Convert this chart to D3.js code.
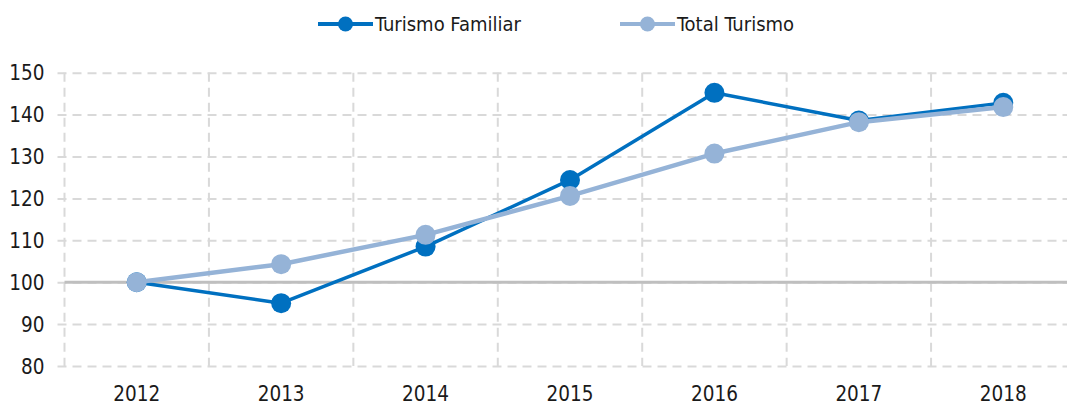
<!DOCTYPE html>
<html><head><meta charset="utf-8">
<script src="https://cdn.jsdelivr.net/npm/d3@7"></script>
<style>
body{margin:0;background:#fff;}
text{font-family:"Liberation Sans Narrow","DejaVu Sans Condensed","Roboto",sans-serif;fill:#1a1a1a;}
</style></head><body>
<svg id="c" width="1067" height="405"></svg>
<script>
const years = ["2012","2013","2014","2015","2016","2017","2018"];
const turismoFamiliar = [100, 95.0, 108.5, 124.4, 145.2, 138.6, 142.8];
const totalTurismo = [100, 104.3, 111.3, 120.6, 130.7, 138.2, 141.8];
const yTicks = [80, 90, 100, 110, 120, 130, 140, 150];
const seriesNames = ["Turismo Familiar", "Total Turismo"];
const colors = ["#0070C0", "#95B3D7"];

const svg = d3.select("#c");
const pLeft = 64.5, pRight = 1075.5, pTop = 72.7, pBottom = 366;
const x = d3.scaleBand().domain(years).range([pLeft, pRight]);
const y = d3.scaleLinear().domain([80, 150]).range([pBottom, pTop]);

// horizontal grid
const gy = svg.append("g").attr("transform", `translate(${pLeft},0)`)
  .call(d3.axisLeft(y).tickValues(yTicks).tickSize(-(pRight-pLeft)).tickPadding(20).tickFormat(d3.format("d")));
gy.select(".domain").remove();
gy.selectAll(".tick line").attr("stroke","#D9D9D9").attr("stroke-width",2).attr("stroke-dasharray","9,6").attr("x1",-7);
gy.selectAll(".tick text").attr("font-size",20.5).style("fill","#1a1a1a").attr("dy","0.35em");

// vertical grid at band boundaries
const bounds = years.map(d => x(d)).concat([pRight]);
svg.append("g").selectAll("line").data(bounds).join("line")
  .attr("x1", d => d).attr("x2", d => d).attr("y1", pTop).attr("y2", pBottom)
  .attr("stroke","#D9D9D9").attr("stroke-width",2).attr("stroke-dasharray","9,6");

// 100 baseline
svg.append("line").attr("x1", pLeft).attr("x2", pRight).attr("y1", y(100)).attr("y2", y(100))
  .attr("stroke","#BFBFBF").attr("stroke-width",3);

// x axis labels
const gx = svg.append("g").attr("transform", `translate(0,${pBottom})`)
  .call(d3.axisBottom(x).tickSize(0).tickPadding(20));
gx.select(".domain").remove();
gx.selectAll(".tick text").attr("font-size",20.5).style("fill","#1a1a1a");

const cx = d => x(d) + x.bandwidth()/2;
const data = [turismoFamiliar, totalTurismo];
const widths = [3.5, 4.5];
data.forEach((vals, i) => {
  const pts = years.map((yr, j) => [cx(yr), y(vals[j])]);
  svg.append("path").attr("d", d3.line()(pts)).attr("fill","none")
    .attr("stroke", colors[i]).attr("stroke-width", widths[i]).attr("stroke-linejoin","round");
  svg.append("g").selectAll("circle").data(pts).join("circle")
    .attr("cx", d => d[0]).attr("cy", d => d[1]).attr("r", 10).attr("fill", colors[i]);
});

// legend
const legX = [318, 620];
const leg = svg.append("g");
seriesNames.forEach((n, i) => {
  const g = leg.append("g").attr("transform", `translate(${legX[i]},24)`);
  g.append("line").attr("x1",0).attr("x2",55).attr("stroke",colors[i]).attr("stroke-width",4);
  g.append("circle").attr("cx",27.5).attr("r",7.5).attr("fill",colors[i]);
  g.append("text").attr("x",57).attr("dy","0.35em").attr("font-size",20).text(n);
});
</script></body></html>
